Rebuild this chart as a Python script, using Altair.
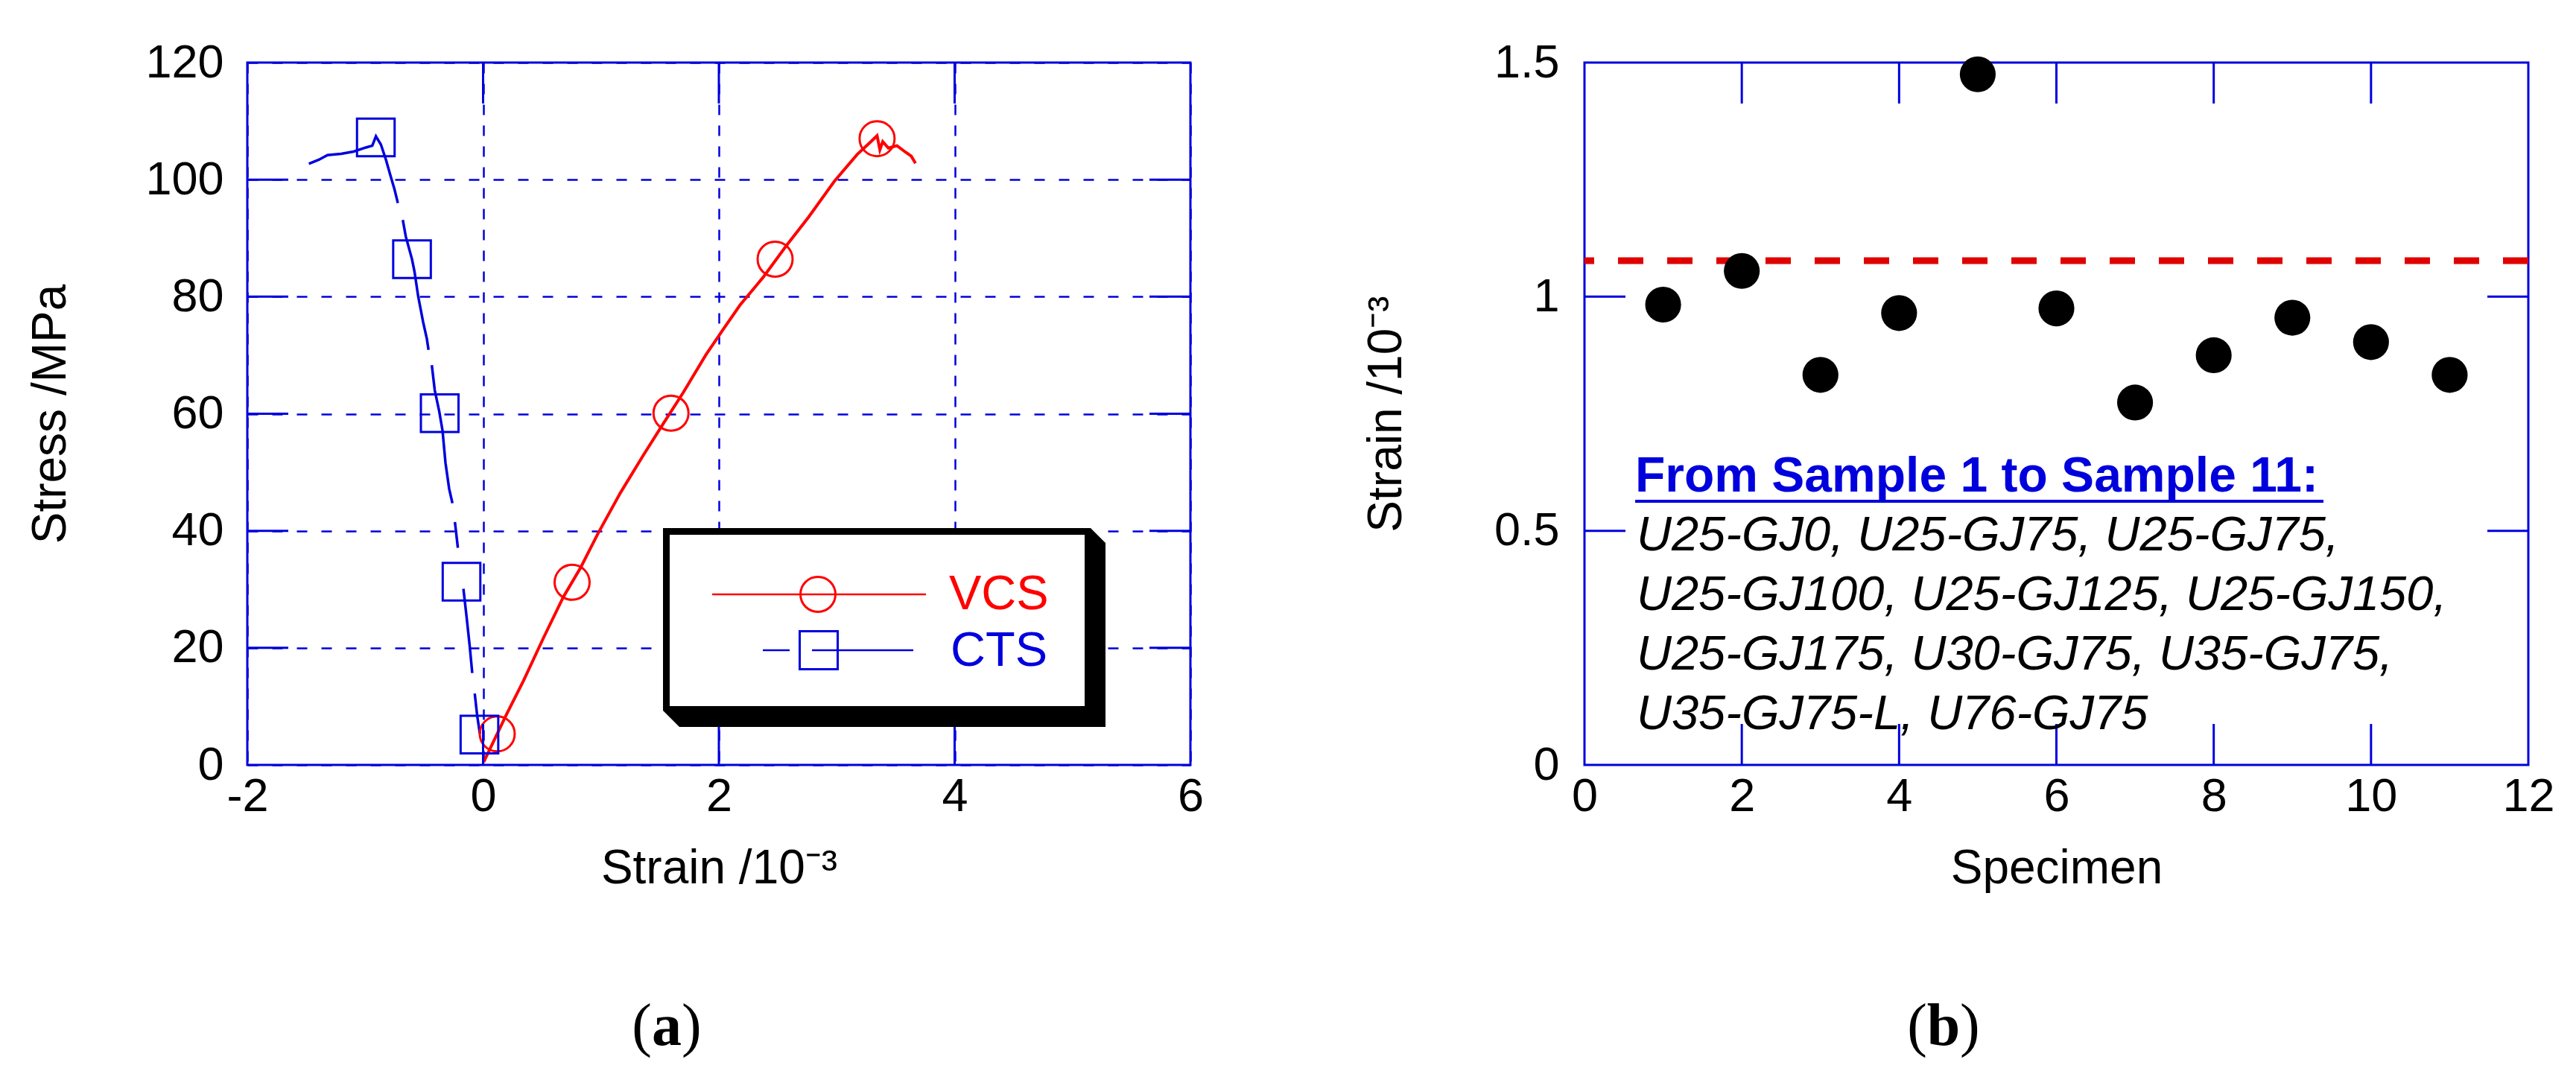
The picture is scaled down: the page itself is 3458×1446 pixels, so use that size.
import altair as alt
import pandas as pd

# ---------------- panel (a): stress-strain curves ----------------
vcs_strain = [0.005, 0.198, 0.343, 0.512, 0.681, 0.827, 0.971, 1.165, 1.359, 1.528,
              1.697, 1.891, 2.036, 2.181, 2.375, 2.568, 2.761, 2.979, 3.173, 3.269,
              3.342, 3.366, 3.39, 3.438, 3.511, 3.583, 3.632, 3.668]
vcs_stress = [0.5, 8.6, 14.4, 21.7, 28.7, 33.7, 39.4, 46.5, 52.9, 58.3,
              63.6, 70.1, 74.4, 78.6, 83.3, 88.6, 93.6, 99.7, 104.3, 106.1,
              107.5, 105.1, 106.5, 105.4, 105.8, 104.7, 104.0, 102.8]
vcs_mark_strain = [0.12, 0.755, 1.594, 2.477, 3.342]
vcs_mark_stress = [5.3, 31.2, 60.1, 86.4, 107.0]

cts_strain = [-1.478, -1.393, -1.320, -1.204, -1.098, -0.993, -0.940, -0.909, -0.867, -0.824,
              -0.783, -0.751, -0.723,
              -0.681, -0.656, -0.603, -0.582, -0.551, -0.509, -0.477, -0.463,
              -0.435, -0.410, -0.372, -0.344, -0.319, -0.288, -0.260,
              -0.239, -0.214,
              -0.167, -0.140, -0.113, -0.092,
              -0.071, -0.050, -0.027]
cts_stress = [102.7, 103.4, 104.2, 104.4, 104.8, 105.5, 105.8, 107.4, 106.0, 103.4,
              100.5, 98.3, 96.0,
              93.1, 90.3, 86.4, 84.3, 80.1, 75.7, 72.8, 70.9,
              68.3, 64.0, 60.4, 57.1, 51.6, 47.2, 44.7,
              41.5, 37.1,
              30.1, 25.3, 20.2, 15.7,
              12.2, 8.4, 5.3]
cts_seg = [1] * 13 + [2] * 8 + [3] * 7 + [4] * 2 + [5] * 4 + [6] * 3
cts_mark_strain = [-0.031, -0.183, -0.368, -0.603, -0.91]
cts_mark_stress = [5.2, 31.3, 60.1, 86.4, 107.2]

a_xticks = [-2, 0, 2, 4, 6]
a_yticks = [0, 20, 40, 60, 80, 100, 120]

# ---------------- panel (b): strain per specimen ----------------
specimen = [1, 2, 3, 4, 5, 6, 7, 8, 9, 10, 11]
specimen_strain = [0.983, 1.055, 0.833, 0.965, 1.475, 0.975, 0.774, 0.875, 0.955, 0.903, 0.833]
ref_strain = [1.077]
b_xticks = [0, 2, 4, 6, 8, 10, 12]
b_yticks = [0, 0.5, 1, 1.5]

legend_labels = ["VCS", "CTS"]
note_title = "From Sample 1 to Sample 11:"
note_lines = ["U25-GJ0, U25-GJ75, U25-GJ75,",
              "U25-GJ100, U25-GJ125, U25-GJ150,",
              "U25-GJ175, U30-GJ75, U35-GJ75,",
              "U35-GJ75-L, U76-GJ75"]

# ---------------- styling ----------------
BLUE = "#0000DD"
RED = "#FF0000"
DRED = "#E00000"
SANS = "Liberation Sans"
SERIF = "Liberation Serif"
WA, WB, H = 1266, 1267, 943
TICK = 55

one = pd.DataFrame({"k": [0]})

df_vcs = pd.DataFrame({"strain": vcs_strain, "stress": vcs_stress, "i": range(len(vcs_strain))})
df_vcs_m = pd.DataFrame({"strain": vcs_mark_strain, "stress": vcs_mark_stress})
df_cts = pd.DataFrame({"strain": cts_strain, "stress": cts_stress, "seg": cts_seg,
                       "i": range(len(cts_strain))})
df_cts_m = pd.DataFrame({"strain": cts_mark_strain, "stress": cts_mark_stress})
df_b = pd.DataFrame({"specimen": specimen, "strain": specimen_strain})


def axis(values, title, grid=False, dash=None, title_x=None, title_y=None, pad=11):
    kw = dict(values=values, labelExpr="'' + datum.value", ticks=False, tickSize=0,
              domain=False, grid=grid, labelFont=SANS, labelFontSize=63, labelColor="black",
              labelPadding=pad, title=title, titleFont=SANS, titleFontSize=64,
              titleFontWeight="normal", titleColor="black", titleBaseline="alphabetic",
              labelFlush=False, labelOverlap=False)
    if grid:
        kw.update(gridColor=BLUE, gridWidth=2.5, gridDash=dash, gridOpacity=1)
    if title_x is not None:
        kw["titleX"] = title_x
    if title_y is not None:
        kw["titleY"] = title_y
    return alt.Axis(**kw)


def txt(s, x, y, **kw):
    base = dict(align="left", baseline="alphabetic", font=SANS, fontSize=64, color="black")
    base.update(kw)
    return alt.Chart(one).mark_text(text=s, **base).encode(x=alt.value(x), y=alt.value(y))


def rule_px(x, x2, y, color, width):
    return alt.Chart(one).mark_rule(color=color, strokeWidth=width).encode(
        x=alt.value(x), x2=alt.value(x2), y=alt.value(y))


def inner_ticks(xfield_enc, yfield_enc, xvals, yvals, xname, yname, W):
    dx = pd.DataFrame({xname: xvals})
    dy = pd.DataFrame({yname: yvals})
    r = dict(color=BLUE, strokeWidth=3)
    return [
        alt.Chart(dx).mark_rule(**r).encode(x=xfield_enc, y=alt.value(H), y2=alt.value(H - TICK)),
        alt.Chart(dx).mark_rule(**r).encode(x=xfield_enc, y=alt.value(0), y2=alt.value(TICK)),
        alt.Chart(dy).mark_rule(**r).encode(y=yfield_enc, x=alt.value(0), x2=alt.value(TICK)),
        alt.Chart(dy).mark_rule(**r).encode(y=yfield_enc, x=alt.value(W - TICK), x2=alt.value(W)),
    ]


# ---------------- panel (a) ----------------
XA = alt.X("strain:Q", scale=alt.Scale(domain=[-2, 6], nice=False, zero=False),
           axis=axis(a_xticks, "Strain /10⁻³", grid=True, dash=[14, 14], title_y=158, pad=11))
YA = alt.Y("stress:Q", scale=alt.Scale(domain=[0, 120], nice=False),
           axis=axis(a_yticks, "Stress /MPa", grid=True, dash=[14, 19], title_x=-245, pad=32))

vcs_line = alt.Chart(df_vcs).mark_line(color=RED, strokeWidth=4).encode(
    x=XA, y=YA, order="i:Q")
cts_line = alt.Chart(df_cts).mark_line(color=BLUE, strokeWidth=3.5).encode(
    x=XA, y=YA, detail="seg:N", order="i:Q")
vcs_pts = alt.Chart(df_vcs_m).mark_point(shape="circle", size=2206, filled=False, color=RED,
                                         strokeWidth=3, opacity=1).encode(x=XA, y=YA)
cts_pts = alt.Chart(df_cts_m).mark_point(shape="square", size=2550, filled=False, color=BLUE,
                                         strokeWidth=3, opacity=1).encode(x=XA, y=YA)

ticks_a = inner_ticks(XA, YA, a_xticks[1:-1], a_yticks[1:-1], "strain", "stress", WA)

# legend box (3D shadowed frame)
leg_black = alt.Chart(one).mark_rect(color="black").encode(
    x=alt.value(558), x2=alt.value(1152), y=alt.value(625), y2=alt.value(892))
leg_white = alt.Chart(one).mark_rect(color="white").encode(
    x=alt.value(567), x2=alt.value(1124), y=alt.value(634), y2=alt.value(864))
bevel_tr = alt.Chart(one).mark_point(shape="M-1,-1L1,-1L1,1Z", size=484, filled=True,
                                     color="white", opacity=1, strokeWidth=0).encode(
    x=alt.value(1143), y=alt.value(636))
bevel_bl = alt.Chart(one).mark_point(shape="M-1,-1L-1,1L1,1Z", size=484, filled=True,
                                     color="white", opacity=1, strokeWidth=0).encode(
    x=alt.value(569), y=alt.value(881))
leg_vcs_line = rule_px(624, 911, 714, RED, 2.5)
leg_vcs_pt = alt.Chart(one).mark_point(shape="circle", size=2206, filled=False, color=RED,
                                       strokeWidth=3, opacity=1).encode(
    x=alt.value(766), y=alt.value(714))
leg_cts_line1 = rule_px(692, 728, 789, BLUE, 2.5)
leg_cts_line2 = rule_px(758, 894, 789, BLUE, 2.5)
leg_cts_pt = alt.Chart(one).mark_point(shape="square", size=2600, filled=False, color=BLUE,
                                       strokeWidth=3, opacity=1).encode(
    x=alt.value(767), y=alt.value(789))
leg_vcs_txt = txt(legend_labels[0], 942, 734, fontSize=65, color=RED)
leg_cts_txt = txt(legend_labels[1], 944, 810, fontSize=65, color=BLUE)

cap_a = [txt("(", 543, 1319, font=SERIF, fontSize=80, align="right"),
         txt("a", 563, 1319, font=SERIF, fontSize=80, align="center", fontWeight="bold"),
         txt(")", 583, 1319, font=SERIF, fontSize=80, align="left")]

panel_a = alt.layer(
    vcs_line, cts_line, vcs_pts, cts_pts, *ticks_a,
    leg_black, leg_white, bevel_tr, bevel_bl,
    leg_vcs_line, leg_vcs_pt, leg_cts_line1, leg_cts_line2, leg_cts_pt,
    leg_vcs_txt, leg_cts_txt, *cap_a
).properties(width=WA, height=H)

# ---------------- panel (b) ----------------
XB = alt.X("specimen:Q", scale=alt.Scale(domain=[0, 12], nice=False, zero=False),
           axis=axis(b_xticks, "Specimen", title_y=158, pad=11))
YB = alt.Y("strain:Q", scale=alt.Scale(domain=[0, 1.5], nice=False),
           axis=axis(b_yticks, "Strain /10⁻³", title_x=-247, pad=34))

pts_b = alt.Chart(df_b).mark_circle(size=2320, color="black", opacity=1).encode(x=XB, y=YB)
ref_b = alt.Chart(pd.DataFrame({"strain": ref_strain})).mark_rule(
    color=DRED, strokeWidth=9, strokeDash=[34, 32]).encode(y=YB)
ticks_b = inner_ticks(XB, YB, b_xticks[1:-1], b_yticks[1:-1], "specimen", "strain", WB)

note_head = txt(note_title, 68, 576, fontSize=66, fontWeight="bold", color=BLUE)
note_ul = rule_px(68, 992, 589, BLUE, 4)
note_body = alt.Chart(one).mark_text(
    text=note_lines, align="left", baseline="alphabetic", font=SANS, fontSize=65,
    fontStyle="italic", color="black", lineHeight=80).encode(x=alt.value(70), y=alt.value(655))

cap_b = [txt("(", 460, 1319, font=SERIF, fontSize=80, align="right"),
         txt("b", 482, 1319, font=SERIF, fontSize=80, align="center", fontWeight="bold"),
         txt(")", 504, 1319, font=SERIF, fontSize=80, align="left")]

panel_b = alt.layer(
    *ticks_b, ref_b, pts_b, note_head, note_ul, note_body, *cap_b
).properties(width=WB, height=H)

chart = alt.hconcat(panel_a, panel_b, spacing=529, bounds="flush").properties(
    padding={"left": 26, "top": 43, "right": 5, "bottom": 5},
    background="white",
).configure_view(stroke=BLUE, strokeWidth=3)

chart.save("out.html", embed_options={"renderer": "svg", "actions": False})
